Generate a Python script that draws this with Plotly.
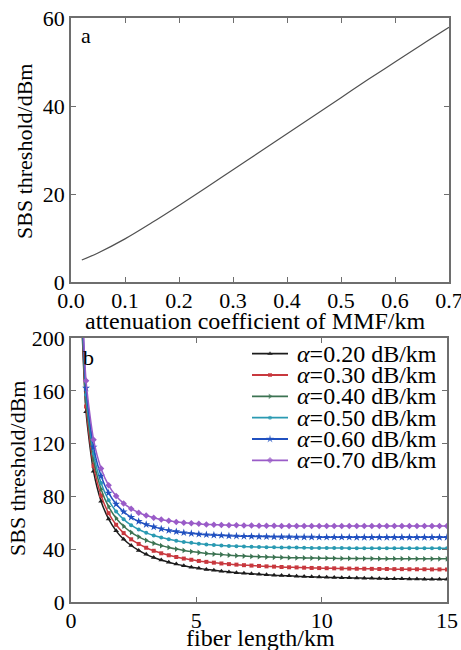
import plotly.graph_objects as go

W, H = 461, 650

# ---------------- data ----------------
# panel a: SBS threshold vs attenuation coefficient
alpha_a = [0.02, 0.05, 0.10, 0.15, 0.20, 0.25, 0.30, 0.35, 0.40, 0.45, 0.50, 0.55, 0.60, 0.65, 0.70]
sbs_a = [5.0, 6.6, 9.8, 13.5, 17.4, 21.4, 25.5, 29.6, 33.7, 37.8, 41.9, 46.0, 50.0, 54.0, 57.9]

# panel b: SBS threshold vs fiber length
fiber_km = [0.3, 0.6, 0.9, 1.2, 1.5, 1.8, 2.1, 2.4, 2.7, 3.0, 3.3, 3.6, 3.9, 4.2, 4.5, 4.8, 5.1, 5.4, 5.7, 6.0,
            6.3, 6.6, 6.9, 7.2, 7.5, 7.8, 8.1, 8.4, 8.7, 9.0, 9.3, 9.6, 9.9, 10.2, 10.5, 10.8, 11.1, 11.4, 11.7, 12.0,
            12.3, 12.6, 12.9, 13.2, 13.5, 13.8, 14.1, 14.4, 14.7, 15.0]
sbs_020 = [280, 144.1, 99.0, 76.4, 62.9, 53.9, 47.5, 42.8, 39.1, 36.1, 33.7, 31.8, 30.1, 28.7, 27.5, 26.4, 25.5, 24.7, 24.0, 23.3,
           22.8, 22.2, 21.8, 21.4, 21.0, 20.6, 20.3, 20.0, 19.8, 19.5, 19.3, 19.1, 18.9, 18.7, 18.6, 18.4, 18.3, 18.2, 18.0, 17.9,
           17.8, 17.7, 17.6, 17.6, 17.5, 17.4, 17.3, 17.3, 17.2, 17.2]
sbs_030 = [283, 148.1, 103.1, 80.7, 67.3, 58.5, 52.2, 47.5, 44.0, 41.1, 38.8, 36.9, 35.4, 34.1, 32.9, 32.0, 31.1, 30.4, 29.8, 29.2,
           28.7, 28.3, 27.9, 27.6, 27.3, 27.0, 26.8, 26.5, 26.3, 26.2, 26.0, 25.8, 25.7, 25.6, 25.5, 25.4, 25.3, 25.2, 25.2, 25.1,
           25.0, 25.0, 24.9, 24.9, 24.8, 24.8, 24.8, 24.7, 24.7, 24.7]
sbs_040 = [288, 152.8, 107.8, 85.5, 72.3, 63.5, 57.4, 52.8, 49.4, 46.7, 44.5, 42.7, 41.3, 40.1, 39.1, 38.2, 37.5, 36.8, 36.3, 35.9,
           35.5, 35.1, 34.8, 34.5, 34.3, 34.1, 33.9, 33.8, 33.6, 33.5, 33.4, 33.3, 33.2, 33.2, 33.1, 33.0, 33.0, 32.9, 32.9, 32.9,
           32.8, 32.8, 32.8, 32.8, 32.8, 32.7, 32.7, 32.7, 32.7, 32.7]
sbs_050 = [292, 157.0, 112.3, 90.2, 77.1, 68.6, 62.6, 58.2, 54.9, 52.4, 50.4, 48.8, 47.5, 46.4, 45.5, 44.8, 44.1, 43.6, 43.2, 42.8,
           42.5, 42.3, 42.0, 41.8, 41.7, 41.5, 41.4, 41.3, 41.2, 41.2, 41.1, 41.0, 41.0, 40.9, 40.9, 40.9, 40.8, 40.8, 40.8, 40.8,
           40.8, 40.8, 40.7, 40.7, 40.7, 40.7, 40.7, 40.7, 40.7, 40.7]
sbs_060 = [297.5, 162.1, 117.4, 95.5, 82.6, 74.2, 68.4, 64.2, 61.1, 58.7, 56.9, 55.4, 54.2, 53.3, 52.5, 51.9, 51.4, 51.0, 50.7, 50.4,
           50.1, 50.0, 49.8, 49.7, 49.6, 49.5, 49.4, 49.3, 49.3, 49.2, 49.2, 49.2, 49.1, 49.1, 49.1, 49.1, 49.1, 49.0, 49.0, 49.0,
           49.0, 49.0, 49.0, 49.0, 49.0, 49.0, 49.0, 49.0, 49.0, 49.0]
sbs_070 = [303.6, 167.6, 123.0, 101.2, 88.4, 80.3, 74.7, 70.7, 67.7, 65.5, 63.8, 62.5, 61.5, 60.7, 60.1, 59.6, 59.2, 58.8, 58.6, 58.4,
           58.2, 58.1, 58.0, 57.9, 57.8, 57.7, 57.7, 57.6, 57.6, 57.6, 57.6, 57.6, 57.5, 57.5, 57.5, 57.5, 57.5, 57.5, 57.5, 57.5,
           57.5, 57.5, 57.5, 57.5, 57.5, 57.5, 57.5, 57.5, 57.5, 57.5]

series_names = ["0.20", "0.30", "0.40", "0.50", "0.60", "0.70"]
series_vals = [sbs_020, sbs_030, sbs_040, sbs_050, sbs_060, sbs_070]
series_colors = ["#1c1c1c", "#c8383e", "#3c7352", "#2a9ab2", "#2050c0", "#9a5cc8"]
series_symbols = ["triangle-up", "square", "triangle-right", "circle", "star", "diamond"]
series_msize = [5, 4, 5, 4, 6, 5]

FONT = "Liberation Serif"

fig = go.Figure()

# panel a
fig.add_trace(go.Scatter(x=alpha_a, y=sbs_a, mode="lines", line=dict(color="#505050", width=1.2, shape="spline"),
                         xaxis="x", yaxis="y", showlegend=False))

# panel b
for name, vals, col, sym, ms in zip(series_names, series_vals, series_colors, series_symbols, series_msize):
    fig.add_trace(go.Scatter(x=fiber_km, y=vals, mode="lines+markers",
                             line=dict(color=col, width=1.5, shape="spline", smoothing=0.6),
                             marker=dict(symbol=sym, size=ms, color=col, line=dict(width=0)),
                             xaxis="x2", yaxis="y2", showlegend=False))

# manual legend samples on an overlay axis
for i, (col, sym, ms) in enumerate(zip(series_colors, series_symbols, series_msize)):
    fig.add_trace(go.Scatter(x=[0, 0.5, 1], y=[i, i, i], mode="lines+markers",
                             line=dict(color=col, width=1.8),
                             marker=dict(symbol=sym, size=[0, ms, 0], color=col, line=dict(width=0)),
                             xaxis="x3", yaxis="y3", showlegend=False, hoverinfo="skip"))

axis_common = dict(showline=True, linecolor="#6e6e6e", linewidth=1.5, mirror="ticks", ticks="inside",
                   ticklen=5, tickwidth=1, tickcolor="#6e6e6e", showgrid=False, zeroline=False,
                   automargin=False, ticklabeloverflow="allow",
                   tickfont=dict(family=FONT, size=22, color="black"))

def px_x(p):
    return p / W

def px_y(p):
    return 1 - p / H

fig.update_layout(
    width=W, height=H, margin=dict(l=0, r=0, t=0, b=0, autoexpand=False),
    paper_bgcolor="white", plot_bgcolor="white",
    font=dict(family=FONT, size=22, color="black"),
    xaxis=dict(domain=[px_x(71), px_x(449)], range=[0, 0.7], dtick=0.1, tickformat=".1f", anchor="y",
               ticklabelstandoff=-2, **axis_common),
    yaxis=dict(domain=[px_y(282), px_y(18)], range=[0, 60], dtick=20, anchor="x", **axis_common),
    xaxis2=dict(domain=[px_x(71), px_x(447)], range=[0, 15], dtick=5, anchor="y2",
                ticklabelstandoff=-2, **axis_common),
    yaxis2=dict(domain=[px_y(602), px_y(338)], range=[0, 200], dtick=40, anchor="x2", **axis_common),
    xaxis3=dict(domain=[px_x(252), px_x(288)], range=[0, 1], visible=False, anchor="y3", fixedrange=True),
    yaxis3=dict(domain=[px_y(471), px_y(343)], range=[5.5, -0.5], visible=False, anchor="x3", fixedrange=True),
)

ann = []
def text(x, y, s, size=22, angle=0, xanchor="center", yref="paper"):
    ann.append(dict(x=x, y=y, xref="paper", yref=yref, text=s, showarrow=False, textangle=angle,
                    xanchor=xanchor, yanchor="middle", font=dict(family=FONT, size=size, color="black")))

text(px_x(25), px_y(152), "SBS threshold/dBm", angle=-90)
text(px_x(255), px_y(321), "attenuation coefficient of MMF/km", size=24)
text(px_x(17), px_y(469), "SBS threshold/dBm", angle=-90)
text(px_x(260), px_y(638), "fiber length/km", size=24)
text(px_x(86), px_y(35), "a", xanchor="center")
text(px_x(88), px_y(357), "b", xanchor="center")
for i, name in enumerate(series_names):
    ann.append(dict(x=px_x(295), y=i, xref="paper", yref="y3", text="<i>α</i>=" + name + " dB/km",
                    showarrow=False, xanchor="left", yanchor="middle",
                    font=dict(family=FONT, size=24, color="black")))
fig.update_layout(annotations=ann)

fig.write_html("out.html")
